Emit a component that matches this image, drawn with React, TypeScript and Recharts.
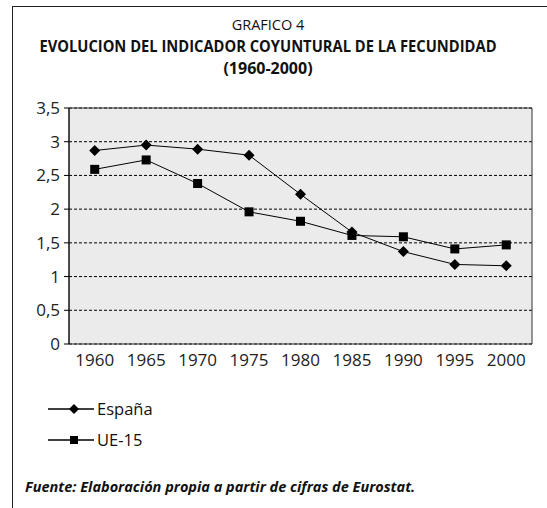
import {
  LineChart,
  Line,
  XAxis,
  YAxis,
  CartesianGrid,
  ReferenceArea,
} from 'recharts';

const years = ['1960', '1965', '1970', '1975', '1980', '1985', '1990', '1995', '2000'];
const espana = [2.87, 2.95, 2.89, 2.8, 2.22, 1.66, 1.37, 1.18, 1.16];
const ue15 = [2.59, 2.73, 2.38, 1.96, 1.82, 1.61, 1.59, 1.41, 1.47];
const yTicks = [0, 0.5, 1, 1.5, 2, 2.5, 3, 3.5];
const edgeTicks = [-0.5, 0.5, 1.5, 2.5, 3.5, 4.5, 5.5, 6.5, 7.5, 8.5];

const data = years.map((y, i) => ({ i, year: y, espana: espana[i], ue15: ue15[i] }));

const FONT = '"Open Sans", "Noto Sans", sans-serif';

function Diamond({ cx, cy, size = 5.5 }: { cx?: number; cy?: number; size?: number }) {
  if (cx == null || cy == null) return null;
  const r = size;
  return <path d={`M${cx},${cy - r} L${cx + r},${cy} L${cx},${cy + r} L${cx - r},${cy} Z`} fill="#000" />;
}

function Square({ cx, cy, size = 4.5 }: { cx?: number; cy?: number; size?: number }) {
  if (cx == null || cy == null) return null;
  const s = size;
  return <rect x={cx - s} y={cy - s} width={s * 2} height={s * 2} fill="#000" />;
}

function LegendRow({ label, square, top }: { label: string; square?: boolean; top: number }) {
  return (
    <div style={{ position: 'absolute', left: 46, top, display: 'flex', alignItems: 'center' }}>
      <svg width={50} height={14}>
        <line x1={2} y1={7} x2={48} y2={7} stroke="#000" strokeWidth={1.5} />
        {square ? <Square cx={28} cy={7} size={4} /> : <Diamond cx={28} cy={7} size={5} />}
      </svg>
      <span style={{ fontFamily: FONT, fontSize: 16.5, marginLeft: 1, color: '#111' }}>{label}</span>
    </div>
  );
}

export default function App() {
  return (
    <div style={{ position: 'absolute', left: 0, top: 0, width: 547, height: 508, background: '#fff', overflow: 'hidden' }}>
      <div style={{ position: 'absolute', left: 12, top: 6, width: 560, height: 540, border: '1.5px solid #222' }} />
      <div style={{ position: 'absolute', left: 12, width: 512, top: 14, textAlign: 'center', fontFamily: FONT, color: '#111' }}>
        <div style={{ fontSize: 14.5, lineHeight: '21px' }}>GRAFICO 4</div>
        <div style={{ fontSize: 16, lineHeight: '22px', fontWeight: 700, transform: 'scaleX(0.92)', whiteSpace: 'nowrap' }}>
          EVOLUCION DEL INDICADOR COYUNTURAL DE LA FECUNDIDAD
        </div>
        <div style={{ fontSize: 16, lineHeight: '23px', fontWeight: 700 }}>(1960-2000)</div>
      </div>
      <div style={{ position: 'absolute', left: 0, top: 0 }}>
        <LineChart width={547} height={380} data={data} margin={{ top: 108, right: 15, bottom: 0, left: 0 }}>
          <CartesianGrid vertical={false} fill="#ebebeb" stroke="#000" strokeDasharray="3 2" />
          <XAxis
            dataKey="i"
            type="number"
            domain={[-0.5, 8.5]}
            ticks={[0, 1, 2, 3, 4, 5, 6, 7, 8]}
            tickFormatter={(v: number) => years[v]}
            tickLine={false}
            axisLine={false}
            height={36}
            tickMargin={4}
            tick={{ fontSize: 17, fill: '#222', fontFamily: FONT }}
          />
          <XAxis
            xAxisId="edges"
            dataKey="i"
            type="number"
            domain={[-0.5, 8.5]}
            ticks={edgeTicks}
            tick={false}
            tickSize={5}
            height={0}
            stroke="#000"
          />
          <YAxis
            domain={[0, 3.5]}
            ticks={yTicks}
            tickFormatter={(v: number) => String(v).replace('.', ',')}
            width={69}
            tickSize={5}
            tickMargin={4}
            stroke="#000"
            tick={{ fontSize: 17, fill: '#222', fontFamily: FONT }}
          />
          <ReferenceArea y1={0} y2={3.5} fill="none" stroke="#333" strokeWidth={1} ifOverflow="visible" />
          <Line dataKey="espana" stroke="#000" strokeWidth={1} dot={<Diamond />} isAnimationActive={false} />
          <Line dataKey="ue15" stroke="#000" strokeWidth={1} dot={<Square />} isAnimationActive={false} />
        </LineChart>
      </div>
      <LegendRow label="España" top={397} />
      <LegendRow label="UE-15" square top={428} />
      <div
        style={{
          position: 'absolute',
          left: 25,
          top: 477,
          fontFamily: FONT,
          fontSize: 14.5,
          fontWeight: 700,
          fontStyle: 'italic',
          color: '#111',
          whiteSpace: 'nowrap',
        }}
      >
        Fuente: Elaboración propia a partir de cifras de Eurostat.
      </div>
    </div>
  );
}
